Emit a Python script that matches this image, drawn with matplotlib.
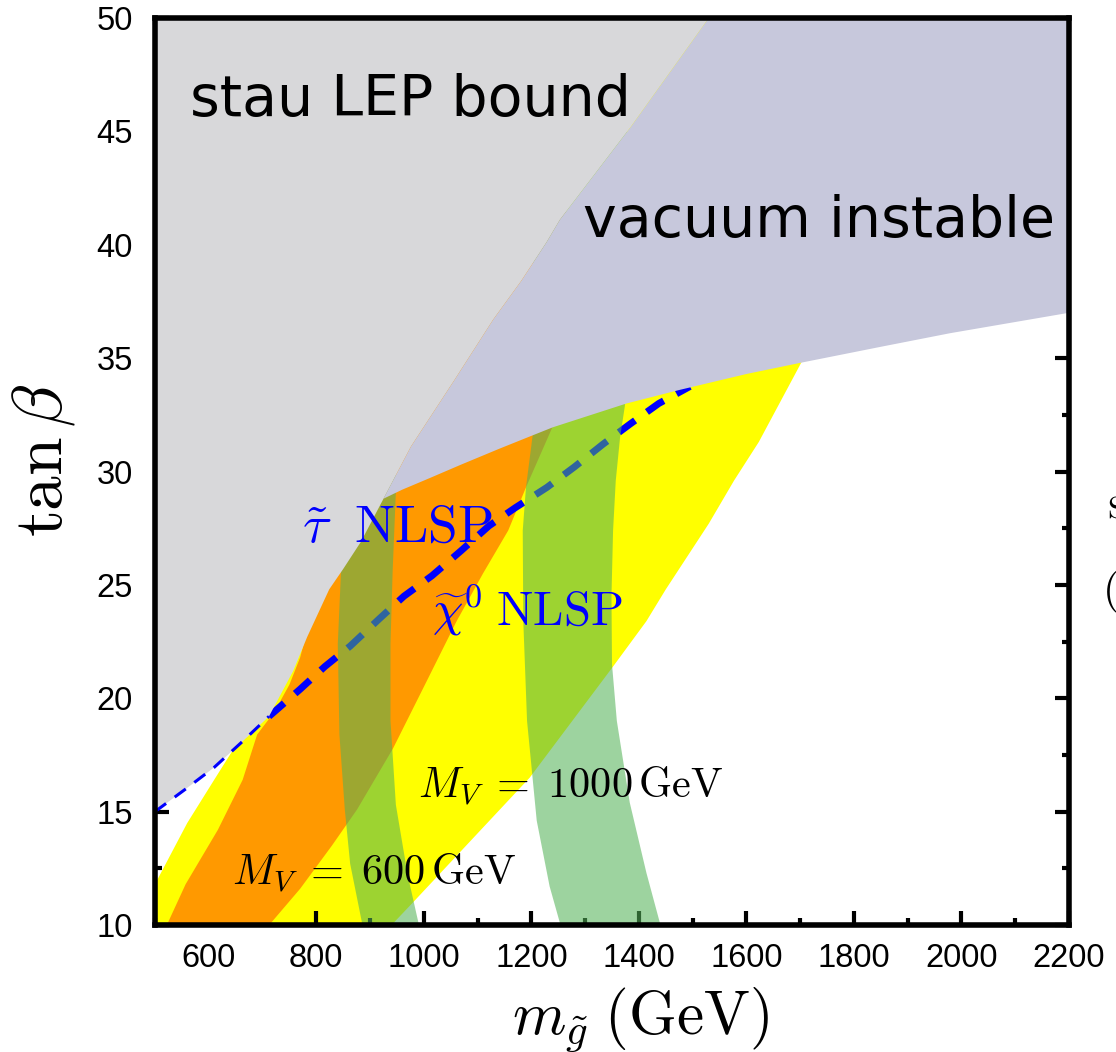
import matplotlib
matplotlib.use('Agg')
import matplotlib.pyplot as plt
from matplotlib.ticker import MultipleLocator

plt.rcParams['mathtext.fontset'] = 'cm'

# gluino mass (GeV) vs tan(beta), boundaries
stau_x = [500, 560, 610, 663, 712, 757, 783, 824, 850, 883, 925]
stau_y = [15.0, 16.05, 16.95, 18.1, 19.2, 21.2, 22.7, 24.8, 25.7, 26.9, 28.8]
diag_x = [925, 976, 1056, 1129, 1181, 1228, 1253, 1385, 1530]
diag_y = [28.8, 31.1, 34.0, 36.7, 38.4, 40.1, 41.1, 45.2, 50.0]
vac_x = [925, 960, 1010, 1069, 1140, 1203, 1240, 1377, 1476, 1600, 1702, 1850, 1979, 2200]
vac_y = [28.8, 29.2, 29.7, 30.3, 31.0, 31.6, 31.95, 33.0, 33.6, 34.3, 34.8, 35.5, 36.1, 37.0]

# allowed regions (upper parts are hidden below the excluded areas)
yel_x = [495, 500, 560, 610, 663, 663, 1740, 1740, 1702, 1623, 1577, 1530, 1450, 1414, 1352, 1197, 980, 944, 936]
yel_y = [9.5, 11.8, 14.5, 16.4, 18.4, 50, 50, 36.6, 34.8, 31.3, 29.6, 27.7, 24.8, 23.4, 21.4, 16.5, 11.0, 10.1, 9.5]
org_x = [520, 524, 557, 617, 663, 690, 722, 750, 770, 800, 800, 1265, 1265, 1240, 1190, 1157, 1110, 1061, 1000, 943, 876, 829, 770, 716, 712]
org_y = [9.5, 10.1, 11.8, 14.2, 16.4, 18.4, 19.4, 20.6, 21.8, 24.5, 50, 50, 33.5, 32.0, 29.3, 27.4, 25.5, 23.4, 20.5, 17.8, 15.1, 13.5, 11.6, 10.1, 9.5]

# M_V = 600 and 1000 GeV bands
g1_x = [887, 885, 863, 853, 843, 840, 846, 855, 855, 952, 948, 942, 938, 938, 948, 970, 990, 995]
g1_y = [9.5, 10.1, 12.7, 15.1, 18.4, 22.4, 25.6, 27.0, 50, 50, 29.1, 25.6, 22.4, 19.0, 15.3, 12.2, 10.1, 9.5]
g2_x = [1258, 1253, 1234, 1210, 1192, 1185, 1184, 1190, 1203, 1203, 1378, 1378, 1374, 1365, 1357, 1352, 1349, 1350, 1359, 1383, 1414, 1439, 1445]
g2_y = [9.5, 10.1, 11.7, 14.6, 19.0, 23.4, 27.4, 29.3, 31.7, 50, 50, 34.5, 32.9, 31.5, 29.6, 27.4, 24.5, 21.5, 19.0, 15.4, 12.3, 10.1, 9.5]

# stau / neutralino NLSP line
nlsp_thin_x = [500, 560, 610, 663, 712]
nlsp_thin_y = [15.0, 16.05, 16.95, 18.1, 19.2]
nlsp_x = [712, 770, 816, 863, 917, 963, 1015, 1069, 1121, 1170, 1229, 1280, 1333, 1384, 1437, 1495]
nlsp_y = [19.2, 20.4, 21.4, 22.3, 23.5, 24.5, 25.4, 26.5, 27.6, 28.4, 29.3, 30.2, 31.2, 32.1, 33.0, 33.75]

fig = plt.figure(figsize=(11.16, 10.52), dpi=100)
ax = fig.add_axes([155/1116, 127/1052, 914/1116, 907/1052])

ax.fill(yel_x, yel_y, color='#ffff00', lw=0, zorder=1)
ax.fill(org_x, org_y, color='#ff9900', lw=0, zorder=2)
ax.plot(nlsp_x, nlsp_y, color='#0000ff', lw=5, dashes=(2.9, 2.1), zorder=3)
ax.fill(g1_x, g1_y, color='#54b257', alpha=0.57, lw=0, zorder=4)
ax.fill(g2_x, g2_y, color='#54b257', alpha=0.57, lw=0, zorder=4)

ax.fill(stau_x + diag_x[1:] + [500], stau_y + diag_y[1:] + [50], color='#d8d8da', lw=0, zorder=5)
ax.fill(diag_x + [2200] + vac_x[::-1], diag_y + [50] + vac_y[::-1], color='#c7c8dc', lw=0, zorder=6)
ax.plot(nlsp_thin_x, nlsp_thin_y, color='#0000ff', lw=2.2, dashes=(4.5, 3.5), zorder=7)

ax.text(565, 45.7, 'stau LEP bound', fontsize=41, family='DejaVu Sans', va='baseline', zorder=10)
ax.text(1296, 40.33, 'vacuum instable', fontsize=41, family='DejaVu Sans', va='baseline', zorder=10)
ax.text(773, 26.9, r'$\tilde{\tau}\ \;\mathrm{NLSP}$', fontsize=38.5, color='#0000ff', va='baseline', zorder=10)
ax.text(1015, 23.2, r'$\widetilde{\chi}^0\;\mathrm{NLSP}$', fontsize=35, color='#0000ff', va='baseline', zorder=10)
ax.text(989, 15.6, r'$M_V\;=\;1000\,\mathrm{GeV}$', fontsize=30.5, va='baseline', zorder=10)
ax.text(643, 11.76, r'$M_V\;=\;600\,\mathrm{GeV}$', fontsize=30.5, va='baseline', zorder=10)

ax.set_xlim(500, 2200)
ax.set_ylim(10, 50)
ax.xaxis.set_major_locator(MultipleLocator(200))
ax.xaxis.set_minor_locator(MultipleLocator(100))
ax.yaxis.set_major_locator(MultipleLocator(5))
ax.yaxis.set_minor_locator(MultipleLocator(2.5))
ax.tick_params(which='both', direction='in', top=True, right=True, width=3, labelsize=23.5)
ax.tick_params(which='major', length=10)
ax.tick_params(which='minor', length=5)
ax.tick_params(axis='x', pad=13)
ax.tick_params(axis='y', pad=16)
for lab in ax.get_xticklabels() + ax.get_yticklabels():
    lab.set_family('Liberation Sans')
for sp in ax.spines.values():
    sp.set_linewidth(4)
    sp.set_zorder(12)

ax.set_xlabel(r'$m_{\tilde{g}}\;(\mathrm{GeV})$', fontsize=44)
ax.xaxis.set_label_coords(0.531, -0.067)
ax.set_ylabel(r'$\tan\beta$', fontsize=50)
ax.yaxis.set_label_coords(-0.0853, 0.5127)

# pieces of the neighbouring panel's text, cut at the edge
fig.text(1107/1116, 0.516, r'$\mathrm{S}$', fontsize=23, va='center')
fig.text(1102/1116, 0.438, r'$($', fontsize=31, va='center')

fig.savefig('out.png', dpi=100)
